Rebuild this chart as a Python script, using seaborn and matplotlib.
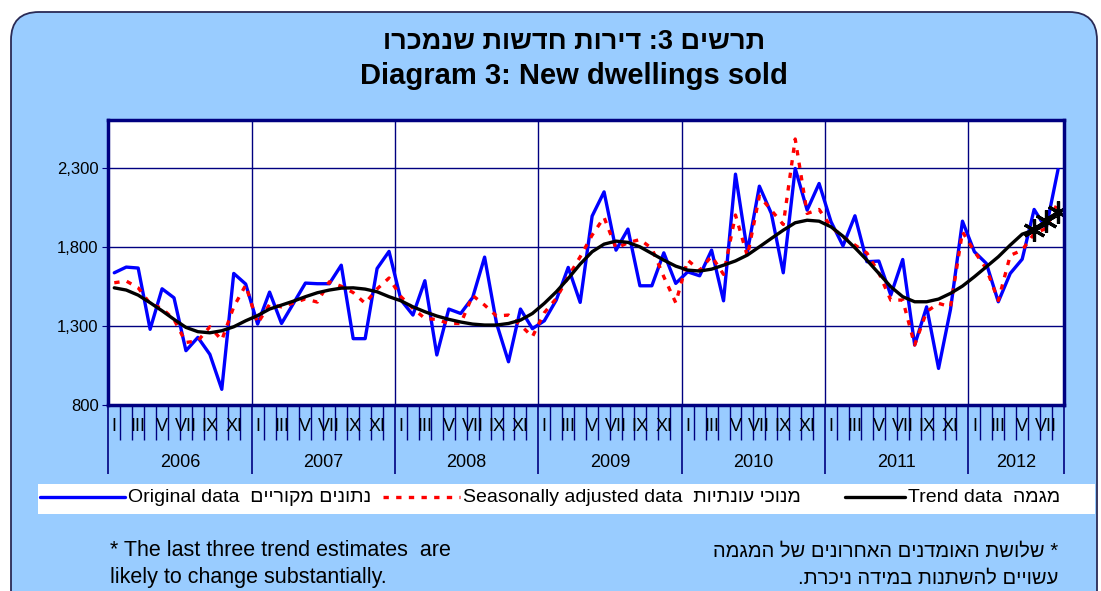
import re

import numpy as np
import pandas as pd
import matplotlib
matplotlib.use("Agg")
from matplotlib import pyplot as plt
from matplotlib import transforms
from matplotlib.patches import FancyBboxPatch, Rectangle
import seaborn as sns

years = [2006, 2007, 2008, 2009, 2010, 2011, 2012]
months_per_year = [12, 12, 12, 12, 12, 12, 8]
month_labels = ["I", "", "III", "", "V", "", "VII", "", "IX", "", "XI", ""]

original = [
    1635, 1671, 1665, 1278, 1534, 1477, 1143, 1227, 1120, 899, 1631, 1564,
    1311, 1513, 1315, 1442, 1570, 1566, 1566, 1683, 1219, 1219, 1662, 1770,
    1463, 1368, 1585, 1116, 1406, 1378, 1479, 1734, 1315, 1073, 1406, 1282,
    1332, 1463, 1669, 1448, 1993, 2146, 1778, 1911, 1553, 1553, 1761, 1568,
    1641, 1616, 1778, 1458, 2258, 1768, 2182, 2010, 1635, 2294, 2031, 2199,
    1957, 1805, 1995, 1705, 1709, 1494, 1719, 1179, 1420, 1031, 1404, 1961,
    1768, 1694, 1452, 1631, 1721, 2035, 1915, 2287,
]
seasonal = [
    1572, 1583, 1540, 1440, 1410, 1340, 1195, 1205, 1294, 1210, 1420, 1557,
    1315, 1435, 1420, 1445, 1470, 1450, 1578, 1550, 1510, 1442, 1533, 1602,
    1484, 1410, 1347, 1340, 1315, 1315, 1492, 1431, 1362, 1368, 1305, 1231,
    1383, 1473, 1610, 1736, 1873, 1985, 1790, 1825, 1845, 1789, 1610, 1446,
    1715, 1650, 1740, 1625, 2000, 1740, 2120, 2030, 1940, 2480, 2010, 2035,
    1925, 1862, 1810, 1760, 1635, 1462, 1463, 1179, 1390, 1442, 1420, 1894,
    1770, 1660, 1460, 1745, 1778, 1883, 1915, 2083,
]
trend = [
    1540, 1526, 1494, 1446, 1395, 1341, 1290, 1263, 1256, 1269, 1294, 1332,
    1365, 1406, 1431, 1456, 1484, 1509, 1526, 1538, 1540, 1532, 1515, 1484,
    1458, 1420, 1389, 1362, 1341, 1324, 1311, 1305, 1305, 1315, 1336, 1378,
    1442, 1515, 1599, 1690, 1768, 1816, 1835, 1827, 1799, 1757, 1715, 1677,
    1652, 1646, 1658, 1683, 1710, 1747, 1799, 1852, 1904, 1951, 1967, 1961,
    1925, 1866, 1793, 1715, 1631, 1547, 1484, 1452, 1452, 1469, 1505, 1551,
    1610, 1673, 1736, 1810, 1879, 1906, 1962, 2021,
]
y_ticks = [800, 1300, 1800, 2300]

n_months = sum(months_per_year)
df = pd.DataFrame({
    "pos": np.arange(n_months) + 0.5,
    "original": original,
    "seasonal": seasonal,
    "trend": trend,
})


def rtl(s):
    # matplotlib has no bidi support: put Hebrew into visual order
    r = s[::-1]
    return re.sub(r"\d+", lambda m: m.group(0)[::-1], r)


sns.set_style("white")
plt.rcParams["font.family"] = ["Liberation Sans", "DejaVu Sans"]
plt.rcParams["text.color"] = "black"

NAVY = "#000080"
RED_DASH = (0, (1.6, 2.2))
W, H = 1101, 591
fig = plt.figure(figsize=(W / 100, H / 100), dpi=100, facecolor="white")

# background panel in pixel coordinates
bg = fig.add_axes([0, 0, 1, 1], zorder=0)
bg.set_xlim(0, W)
bg.set_ylim(H, 0)
bg.axis("off")
bg.add_patch(FancyBboxPatch((11, 12), 1086, 640,
                            boxstyle="round,pad=0,rounding_size=28",
                            facecolor="#99CCFF", edgecolor="#2A2A55", lw=1.3))
bg.add_patch(Rectangle((38, 484), 1057, 30, facecolor="white", edgecolor="none"))

ax = fig.add_axes([108.3 / W, 1 - 405 / H, (1064 - 108.3) / W, (405 - 120) / H], zorder=2)
ax.set_facecolor("white")

sns.lineplot(data=df, x="pos", y="original", ax=ax, color="#0000FF", lw=2.4)
sns.lineplot(data=df, x="pos", y="seasonal", ax=ax, color="#FF0000", lw=2.4,
             linestyle=RED_DASH)
sns.lineplot(data=df, x="pos", y="trend", ax=ax, color="black", lw=2.4)
last3 = df.tail(3)
ax.plot(last3["pos"], last3["trend"], linestyle="none", marker=(6, 2, 0),
        markersize=16, markeredgewidth=2.3, color="black")

ax.set_xlim(0, n_months)
ax.set_ylim(800, 2600)
ax.set_xlabel("")
ax.set_ylabel("")

year_edges = np.concatenate([[0], np.cumsum(months_per_year)])
ax.set_xticks(year_edges)
ax.set_xticks(np.arange(n_months + 1), minor=True)
ax.set_xticklabels([])
ax.tick_params(axis="x", which="major", direction="out", length=50, width=1.2,
               color=NAVY, bottom=True)
ax.tick_params(axis="x", which="minor", direction="out", length=25, width=1.0,
               color=NAVY, bottom=True)

ax.set_yticks(y_ticks)
ax.set_yticklabels([f"{v:,}" for v in y_ticks], fontsize=12)
ax.tick_params(axis="y", direction="out", length=4, color=NAVY, left=True, pad=3,
               labelcolor="black")

ax.grid(True, which="major", axis="both", color=NAVY, lw=1.0)
ax.set_axisbelow(True)
for sp in ax.spines.values():
    sp.set_color(NAVY)
    sp.set_linewidth(2.5)

trans = transforms.blended_transform_factory(ax.transData, ax.transAxes)
k = 0
for yr, nm in zip(years, months_per_year):
    for m in range(nm):
        if month_labels[m]:
            ax.text(k + m + 0.5, -0.077, month_labels[m], transform=trans,
                    ha="center", va="center", fontsize=13)
    ax.text(k + nm / 2, -0.2035, str(yr), transform=trans,
            ha="center", va="center", fontsize=13)
    k += nm

# legend row, drawn by hand on the pixel-coordinate panel
legend_items = [
    (40, 125, "#0000FF", "-", "Original data  " + rtl("נתונים מקוריים")),
    (383, 460, "#FF0000", RED_DASH, "Seasonally adjusted data  " + rtl("מנוכי עונתיות")),
    (845, 905, "black", "-", "Trend data  " + rtl("מגמה")),
]
for x0, x1, col, ls, label in legend_items:
    bg.plot([x0, x1], [497, 497], color=col, lw=2.4, linestyle=ls)
    bg.text(x1 + 3, 497, label, ha="left", va="center", fontsize=14)

fig.text(574 / W, 1 - 42 / H, rtl("תרשים 3: דירות חדשות שנמכרו"),
         ha="center", va="center", fontsize=19.5, fontweight="bold")
fig.text(574 / W, 1 - 76 / H, "Diagram 3: New dwellings sold",
         ha="center", va="center", fontsize=21, fontweight="bold")

fig.text(110 / W, 1 - 551 / H, "* The last three trend estimates  are",
         ha="left", va="center", fontsize=15.5)
fig.text(110 / W, 1 - 578 / H, "likely to change substantially.",
         ha="left", va="center", fontsize=15.5)
fig.text(1058 / W, 1 - 551 / H, rtl("* שלושת האומדנים האחרונים של המגמה"),
         ha="right", va="center", fontsize=14.5)
fig.text(1058 / W, 1 - 578 / H, rtl("עשויים להשתנות במידה ניכרת."),
         ha="right", va="center", fontsize=14.5)

fig.savefig("out.png", dpi=100, facecolor="white")
